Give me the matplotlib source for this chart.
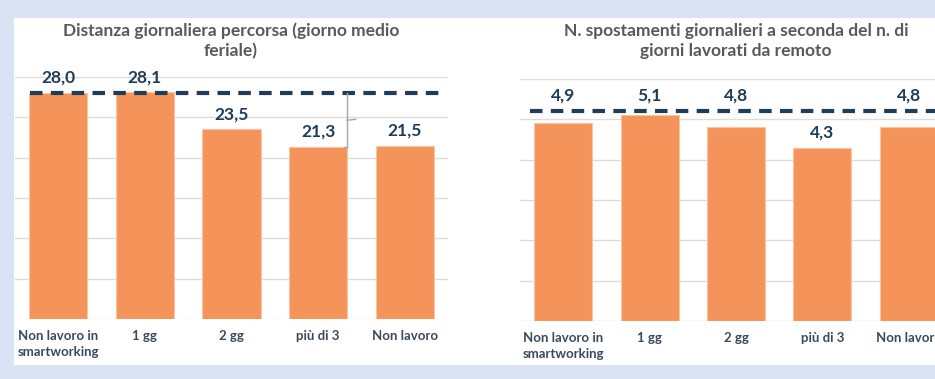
import matplotlib
matplotlib.use("Agg")
import matplotlib.pyplot as plt
from matplotlib.patches import Rectangle

plt.rcParams["font.family"] = ["Lato", "DejaVu Sans"]

categorie = ["Non lavoro in\nsmartworking", "1 gg", "2 gg", "più di 3", "Non lavoro"]
distanza_km = [28.0, 28.1, 23.5, 21.3, 21.5]
spostamenti = [4.9, 5.1, 4.8, 4.3, 4.8]
rif_distanza = 28.0
rif_spostamenti = 5.2

titolo_sx = "Distanza giornaliera percorsa (giorno medio\nferiale)"
titolo_dx = "N. spostamenti giornalieri a seconda del n. di\ngiorni lavorati da remoto"

BG = "#dae3f3"
BAR = "#f5945a"
NAVY = "#1f3d57"
TICK = "#3b4a5a"
GRID = "#dcdcdc"

W, H = 935, 379
fig = plt.figure(figsize=(W / 100, H / 100), dpi=100, facecolor=BG)

# white card behind both charts
fig.patches.append(Rectangle((14 / W, (H - 365) / H), 1, (365 - 18) / H,
                             transform=fig.transFigure, facecolor="white",
                             edgecolor="none", zorder=-10))


def px_axes(x0, x1, y_top, y_base):
    ax = fig.add_axes([x0 / W, (H - y_base) / H, (x1 - x0) / W, (y_base - y_top) / H])
    ax.set_zorder(1)
    return ax


def draw_panel(ax, values, ymax, step, ref, ref_x0, ref_x1, thr):
    ax.set_facecolor("none")
    x = range(len(values))
    ax.bar(x, values, width=0.67, color=BAR, edgecolor="#f9c4a0", linewidth=0.8, zorder=2)
    ax.set_xlim(-0.5, len(values) - 0.5)
    ax.set_ylim(0, ymax)
    ax.set_yticks([i * step for i in range(int(round(ymax / step)) + 1)])
    ax.yaxis.grid(True, color=GRID, linewidth=1, zorder=0)
    ax.set_axisbelow(True)
    ax.set_yticklabels([])
    ax.tick_params(axis="both", length=0)
    for s in ax.spines.values():
        s.set_visible(False)
    ax.set_xticks(list(x))
    ax.set_xticklabels(categorie, fontsize=9.5, fontweight="bold", color=TICK,
                       linespacing=1.35)
    ax.tick_params(axis="x", pad=8)
    ax.plot([ref_x0, ref_x1], [ref, ref], color=NAVY, linewidth=3,
            linestyle=(0, (3, 2)), zorder=3, clip_on=False, solid_capstyle="butt")
    for i, v in enumerate(values):
        anchor = ref if ref - v < thr else v
        ax.annotate(f"{v:.1f}".replace(".", ","), (i, anchor), xytext=(0, 11),
                    textcoords="offset points", ha="center", va="center",
                    fontsize=12.5, fontweight="bold", color=NAVY, zorder=4,
                    annotation_clip=False)


ax1 = px_axes(15, 448, 77, 319)
draw_panel(ax1, distanza_km, 30, 5, rif_distanza, -0.33, 4.41, 3.0)

# brace between the reference line and the "più di 3" bar
bx = 3 + 0.335
ym = (rif_distanza + distanza_km[3]) / 2
ax1.plot([bx, bx], [rif_distanza, distanza_km[3]], color="#a6a6a6", lw=1, zorder=3)
ax1.plot([bx - 0.04, bx], [distanza_km[3], distanza_km[3]], color="#a6a6a6", lw=1, zorder=3)
ax1.plot([bx, bx + 0.1], [ym, ym + 0.1], color="#a6a6a6", lw=1, zorder=3)

ax2 = px_axes(520, 952, 79, 321)
draw_panel(ax2, spostamenti, 6, 1, rif_spostamenti, -0.38, 4.6, 0.6)

fig.text(231 / W, 1 - 41 / H, titolo_sx, ha="center", va="center", fontsize=12.5,
         fontweight="bold", color="#595959", linespacing=1.35)
fig.text(736 / W, 1 - 41 / H, titolo_dx, ha="center", va="center", fontsize=12.5,
         fontweight="bold", color="#595959", linespacing=1.35)

fig.savefig("out.png", dpi=100, facecolor=BG)
